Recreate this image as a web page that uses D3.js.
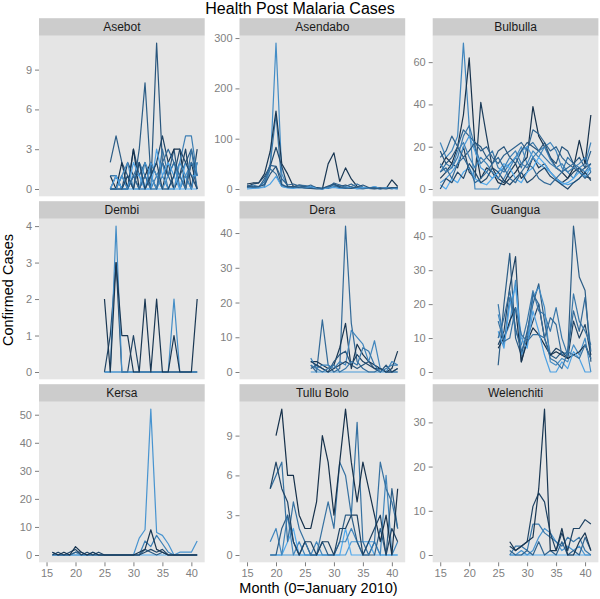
<!DOCTYPE html>
<html><head><meta charset="utf-8">
<script src="https://cdn.jsdelivr.net/npm/d3@7"></script>
<style>body{margin:0;background:#fff} text{font-family:"Liberation Sans",Arial,sans-serif}</style>
</head><body><svg id="c" width="600" height="599"></svg>
<script>
// ---------- data ----------
const facetNames = ["Asebot","Asendabo","Bulbulla","Dembi","Dera","Guangua","Kersa","Tullu Bolo","Welenchiti"];
const startMonths = [26,15,15,25,26,25,16,19,27];
const yTickValues = [[0,3,6,9],[0,100,200,300],[0,20,40,60],[0,1,2,3,4],[0,10,20,30,40],[0,10,20,30,40],[0,10,20,30,40,50],[0,3,6,9],[0,10,20,30]];
const xTickValues = [15,20,25,30,35,40];

const asebotShades = [0.4,0.35,0.05,0.2,0.65,0.8,1.0,0.55,0.75,0.9,0.25,0.5];
const asebot = [
 [2,4,2,1,0,3,8,1,0,2,1,0,1,2,3,1],
 [0,0,1,0,3,1,2,0,11,2,1,3,0,1,0,2],
 [1,0,2,0,3,0,1,2,1,0,2,3,3,0,2,0],
 [0,1,0,2,1,0,0,1,2,4,2,0,1,3,0,3],
 [1,1,0,1,0,2,1,0,1,2,0,1,2,4,4,1],
 [0,0,1,0,1,1,0,2,1,0,1,2,0,1,2,1],
 [0,0,0,0,0,0,0,0,0,0,0,0,0,0,0,0],
 [1,1,0,0,1,2,0,1,0,3,1,2,1,0,3,0],
 [0,0,1,2,0,0,2,1,0,1,0,0,2,1,0,2],
 [0,1,0,0,2,1,0,0,3,1,2,1,0,2,1,1],
 [0,0,0,1,0,2,0,1,2,0,0,1,3,2,1,0],
 [0,0,0,0,1,0,1,0,0,2,3,2,1,0,2,1]
];

const asendaboShades = [0.75,0.6,0.1,0.25,0.45,0.55,0.9,0.35];
const asendabo = [
 [5,3,2,5,40,290,30,5,3,2,4,2,1,0,3,5,2,1,3,0,2,3,1,0,2,1,3],
 [2,8,5,10,50,148,10,3,5,4,2,1,3,2,1,4,8,3,2,1,0,2,1,2,1,2,0],
 [10,12,12,30,75,155,50,30,5,8,6,5,3,0,50,72,15,42,20,5,3,2,4,2,1,18,5],
 [5,10,12,25,45,83,45,5,4,3,6,4,2,1,2,10,5,8,4,2,3,1,0,2,1,3,2],
 [8,5,3,20,47,45,20,8,10,6,4,8,2,0,3,12,8,5,10,3,2,1,2,0,3,2,1],
 [3,2,4,15,40,30,5,3,2,8,7,3,1,2,5,8,3,2,5,10,4,2,3,1,2,0,4],
 [0,1,2,3,10,25,5,2,1,3,2,5,1,0,2,3,1,4,2,1,3,2,5,1,2,1,0],
 [6,4,5,8,30,45,8,4,5,3,2,1,0,1,6,10,3,2,1,4,8,3,2,1,0,2,3]
];

const bulbullaShades = [0.7,0.05,0.15,0.45,0.6,0.85,0.35,0.95,0.25,0.65,0.5];
const bulbulla = [
 [22,15,18,25,69,30,0,0,0,0,0,5,10,15,20,12,18,15,20,22,18,10,8,5,10,12,22],
 [10,15,12,20,35,62,20,5,10,8,3,2,5,8,12,15,39,25,20,15,10,8,5,10,23,12,35],
 [5,8,12,10,20,8,5,41,25,10,5,3,8,12,5,8,15,10,12,8,5,3,5,8,10,6,5],
 [15,18,25,20,28,25,22,18,20,15,12,16,18,20,22,18,28,26,22,18,20,15,12,10,8,10,18],
 [8,12,10,15,25,30,20,12,15,18,10,8,12,15,10,20,22,18,15,12,10,8,15,12,10,8,12],
 [3,5,8,12,20,25,18,10,8,5,8,10,12,15,18,20,15,12,10,8,5,3,2,3,5,8,10],
 [18,12,15,20,15,18,22,20,15,12,18,20,15,12,18,22,20,18,22,15,12,20,18,12,15,10,12],
 [2,0,5,3,8,10,5,3,2,5,8,12,10,5,3,8,10,15,12,8,5,2,3,5,8,6,10],
 [0,5,3,8,5,12,8,3,5,10,8,4,2,5,8,3,5,8,10,6,4,2,0,3,5,8,4],
 [12,8,10,18,22,15,10,15,12,8,5,10,15,18,12,10,15,18,20,14,10,12,8,10,12,15,8],
 [8,10,5,12,15,10,3,5,8,12,15,10,5,3,8,12,10,5,3,2,5,8,10,12,8,5,8]
];

const dembiShades = [0.6,0.9,0.2,0.75,0.1];
const dembi = [
 [0,0,0,0,0,0,0,0,0,0,0,0,0,0,0,0,0],
 [0,0,0,0,0,0,0,0,0,0,0,0,0,0,0,0,0],
 [0,1,3,0,0,1,0,0,0,0,0,0,0,0,0,0,0],
 [0,0,4,0,0,0,0,0,0,0,0,0,2,0,0,0,0],
 [2,0,3,1,1,0,0,2,0,2,0,0,1,0,0,0,2]
];

const deraShades = [0.85,0.5,0.1,0.7,0.35,0.2,0.6];
const dera = [
 [0,0,0,0,0,0,0,0,0,0,0,0,0,0,0,0],
 [2,0,15,2,0,1,42,14,3,1,0,0,1,0,0,0],
 [3,3,2,1,2,7,14,1,8,5,3,2,1,0,1,6],
 [4,1,2,2,1,3,2,12,10,8,3,9,1,0,3,2],
 [1,2,1,0,3,5,6,2,1,2,3,1,0,2,0,1],
 [3,2,1,0,1,2,3,2,5,3,2,1,1,0,0,1],
 [2,1,0,1,2,0,1,3,2,7,6,2,0,1,2,2]
];

const guanguaShades = [0.4,0.2,0.6,0.75,0.05,0.9,0.5,0.55];
const guangua = [
 [2,20,35,10,5,12,20,26,15,5,4,6,5,43,28,24,3],
 [8,12,25,34,3,10,15,20,10,5,7,6,4,15,10,14,5],
 [20,8,22,12,8,15,24,18,17,12,19,10,5,23,15,12,8],
 [17,10,14,27,5,8,22,25,19,3,2,4,3,8,5,10,0],
 [7,10,15,19,3,9,13,11,8,5,6,5,4,5,6,8,4],
 [12,7,20,25,10,7,18,12,5,0,0,3,1,6,4,0,0],
 [10,16,24,13,6,11,23,20,10,16,14,5,6,18,12,22,6],
 [15,9,10,19,11,9,11,11,10,4,3,1,6,5,4,8,4]
];

const kersaShades = [0.95,0.8,0.65,0.4,0.25,0.1];
const kersa = [
 [0,0,0,0,0,0,0,0,0,0,0,0,0,0,0,0,0,0,0,0,0,0,0,0,0,0],
 [0,0,0,0,0,0,0,0,0,0,0,0,0,0,0,6,9,52,8,7,4,0,1,1,1,5],
 [0,0,0,0,1,0,0,1,0,0,0,0,0,0,0,0,5,3,7,4,1,0,0,0,0,0],
 [1,0,0,0,1,1,0,0,0,0,0,0,0,0,0,0,2,1,0,1,0,0,0,0,0,0],
 [0,1,0,1,2,0,1,0,1,0,0,0,0,0,0,0,1,2,1,2,0,0,0,0,0,0],
 [1,0,1,0,3,1,0,1,0,0,0,0,0,0,0,1,2,9,2,1,0,0,0,0,0,0]
];

const tulluBoloShades = [0.85,0.95,0.7,0.4,0.55,0.2,0.05];
const tulluBolo = [
 [0,0,0,0,0,0,0,0,0,0,0,0,0,0,1,1,1,1,1,0,0,0,0],
 [0,0,0,1,2,0,0,0,0,0,0,0,0,2,0,0,0,1,0,0,0,0,0],
 [1,2,0,3,0,1,0,0,1,0,0,0,1,1,2,1,0,0,1,0,6,0,1],
 [0,0,2,3,1,0,1,0,0,1,0,0,1,3,3,1,0,0,0,2,0,5,2],
 [5,6,7,1,4,2,1,0,0,2,4,2,7,6,3,10,1,0,1,7,5,4,2],
 [5,7,5,4,1,0,1,1,0,1,1,0,2,2,3,3,0,1,2,3,0,2,1],
 [null,9,11,6,6,3,2,2,4,9,7,3,7,11,7,4,7,5,3,1,3,0,5]
];

const welenchitiShades = [0.95,0.8,0.6,0.45,0.2,0.1];
const welenchiti = [
 [0,0,0,0,0,0,0,0,0,0,0,0,0,0,0],
 [0,0,1,0,1,4,6,5,3,1,2,1,2,0,0],
 [0,2,2,1,7,7,5,4,3,2,4,3,4,1,0],
 [1,0,0,1,0,3,0,1,0,3,0,1,0,4,1],
 [2,1,2,3,11,14,12,5,1,5,1,6,6,8,7],
 [3,1,2,3,4,15,33,1,1,6,0,0,3,5,1]
];

const facetSeries = [asebot, asendabo, bulbulla, dembi, dera, guangua, kersa, tulluBolo, welenchiti];
const facetShades = [asebotShades, asendaboShades, bulbullaShades, dembiShades, deraShades, guanguaShades, kersaShades, tulluBoloShades, welenchitiShades];

// ---------- layout ----------
const svg = d3.select("#c");
const colLefts = [39, 239.5, 432.7];
const panelW = 165.7;
const rowTops = [18.2, 201.2, 384.2];
const stripH = 17.6;
const plotH = 160.5;
const color = d3.scaleLinear().domain([0,1]).range(["#132B43","#56B1F7"]).interpolate(d3.interpolateLab);

const xMin = 15, xMax = 41, xPad = (xMax - xMin) * 0.05;
const x0 = d3.scaleLinear().domain([xMin - xPad, xMax + xPad]).range([0, panelW]);

svg.append("text").attr("x", 300).attr("y", 14).attr("text-anchor", "middle")
  .attr("font-size", 16).attr("fill", "#000").text("Health Post Malaria Cases");

facetNames.forEach((name, i) => {
  const col = i % 3, row = Math.floor(i / 3);
  const left = colLefts[col], top = rowTops[row];
  const g = svg.append("g").attr("transform", `translate(${left},${top})`);
  g.append("rect").attr("width", panelW).attr("height", stripH).attr("fill", "#cccccc");
  g.append("text").attr("x", panelW / 2).attr("y", stripH / 2 + 4.2).attr("text-anchor", "middle")
    .attr("font-size", 12).attr("fill", "#1a1a1a").text(name);
  const pg = g.append("g").attr("transform", `translate(0,${stripH})`);
  pg.append("rect").attr("width", panelW).attr("height", plotH).attr("fill", "#e5e5e5");

  const series = facetSeries[i];
  const maxV = d3.max(series, s => d3.max(s));
  const y = d3.scaleLinear().domain([-0.05 * maxV, maxV * 1.05]).range([plotH, 0]);

  const yAxis = d3.axisLeft(y).tickValues(yTickValues[i]).tickFormat(d3.format("d")).tickSize(4).tickPadding(3);
  const ya = pg.append("g").call(yAxis);
  ya.select(".domain").remove();
  ya.selectAll("line").attr("stroke", "#7f7f7f");
  ya.selectAll("text").attr("fill", "#7f7f7f").attr("font-size", 11)
    .style("font-family", '"Liberation Sans",Arial,sans-serif');

  if (row === 2) {
    const xAxis = d3.axisBottom(x0).tickValues(xTickValues).tickFormat(d3.format("d")).tickSize(4).tickPadding(3);
    const xa = pg.append("g").attr("transform", `translate(0,${plotH})`).call(xAxis);
    xa.select(".domain").remove();
    xa.selectAll("line").attr("stroke", "#7f7f7f");
    xa.selectAll("text").attr("fill", "#7f7f7f").attr("font-size", 11)
      .style("font-family", '"Liberation Sans",Arial,sans-serif');
  }

  const line = d3.line()
    .defined(d => d.v !== null)
    .x(d => x0(d.m)).y(d => y(d.v));
  series.forEach((s, j) => {
    const pts = s.map((v, k) => ({ m: startMonths[i] + k, v }));
    pg.append("path").attr("d", line(pts)).attr("fill", "none")
      .attr("stroke", color(facetShades[i][j])).attr("stroke-width", 1.2)
      .attr("stroke-linejoin", "round");
  });
});

svg.append("text").attr("x", 318.5).attr("y", 593).attr("text-anchor", "middle")
  .attr("font-size", 14.5).attr("fill", "#000").text("Month (0=January 2010)");
svg.append("text").attr("transform", "translate(12.5,290) rotate(-90)").attr("text-anchor", "middle")
  .attr("font-size", 14.5).attr("fill", "#000").text("Confirmed Cases");
</script></body></html>
